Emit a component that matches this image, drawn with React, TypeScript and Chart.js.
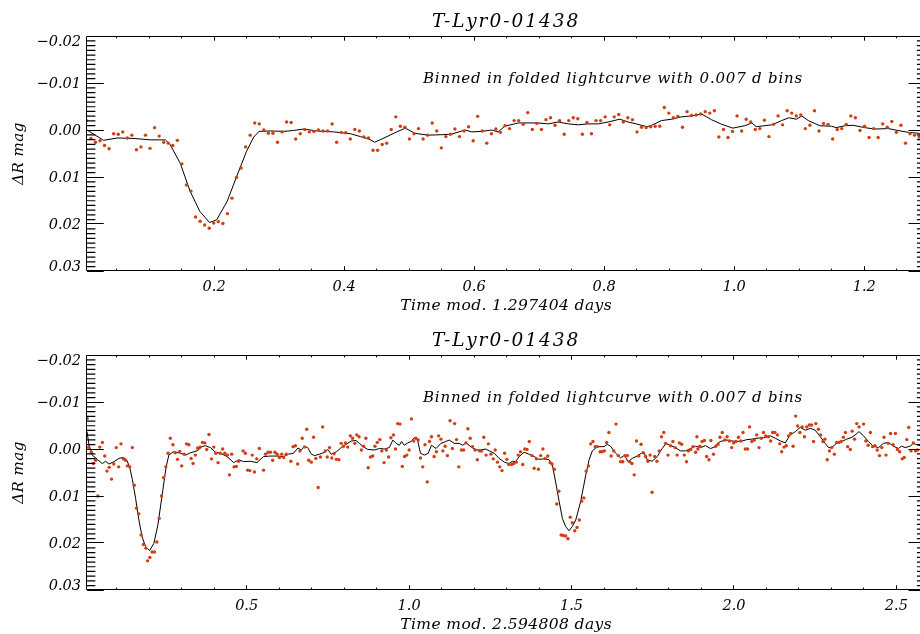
import React, { useEffect, useRef } from "react";
import { Chart, registerables } from "chart.js";

Chart.register(...registerables);

// ---------- text ----------
const TITLE = "T-Lyr0-01438";
const NOTE = "Binned in folded lightcurve with 0.007 d bins";
const Y_TITLE = "ΔR mag";
const TOP_X_TITLE = "Time mod. 1.297404 days";
const BOTTOM_X_TITLE = "Time mod. 2.594808 days";

// ---------- axes ----------
const Y_MIN = -0.02;
const Y_MAX = 0.03;
const Y_MAJOR = [-0.02, -0.01, 0, 0.01, 0.02, 0.03];
const Y_LABELS = ["\u22120.02", "\u22120.01", "0.00", "0.01", "0.02", "0.03"];
const Y_MINOR_STEP = 0.001;

const TOP_X_MIN = 0.0045;
const TOP_X_MAX = 1.294;
const TOP_X_MAJOR = [0.2, 0.4, 0.6, 0.8, 1.0, 1.2];
const TOP_X_LABELS = ["0.2", "0.4", "0.6", "0.8", "1.0", "1.2"];
const TOP_X_MINOR_STEP = 0.05;

const BOTTOM_X_MIN = 0.0085;
const BOTTOM_X_MAX = 2.589;
const BOTTOM_X_MAJOR = [0.5, 1.0, 1.5, 2.0, 2.5];
const BOTTOM_X_LABELS = ["0.5", "1.0", "1.5", "2.0", "2.5"];
const BOTTOM_X_MINOR_STEP = 0.1;

// ---------- data: top panel (period 1.297404 d) ----------
const BIN_WIDTH = 0.007;
const TOP_FIRST_BIN = 0.0035;
const TOP_BINNED = [
  -0.0020, 0.0018, 0.0026, 0.0023, 0.0033, 0.0040, 0.0008, 0.0009, 0.0004, 0.0017,
  0.0011, 0.0042, 0.0036, 0.0011, 0.0039, -0.0005, 0.0013, 0.0026, 0.0028, 0.0033,
  0.0022, 0.0072, 0.0117, 0.0130, 0.0185, 0.0194, 0.0202, 0.0209, 0.0198, 0.0195,
  0.0199, 0.0178, 0.0145, 0.0101, 0.0081, 0.0036, 0.0011, -0.0015, -0.0013, 0.0000,
  0.0007, 0.0007, 0.0026, 0.0004, -0.0017, -0.0016, 0.0019, 0.0008, -0.0001, 0.0004,
  0.0003, 0.0000, 0.0002, 0.0002, -0.0013, 0.0026, 0.0005, 0.0006, 0.0019, -0.0001,
  0.0002, 0.0015, 0.0017,
  0.0043, 0.0043, 0.0031, 0.0028, -0.0001, -0.0028, -0.0008, -0.0006, 0.0019, 0.0008,
  -0.0003, 0.0019, 0.0011, -0.0015, 0.0002, 0.0038, 0.0014, 0.0009, -0.0002, 0.0014,
  0.0002, -0.0007, 0.0023, -0.0029, 0.0002, 0.0028, 0.0008, -0.0002, 0.0005, -0.0009,
  -0.0003, -0.0020, -0.0020, -0.0012, -0.0037, -0.0001, -0.0014, -0.0001, -0.0022, -0.0026,
  -0.0010, -0.0020, 0.0009, -0.0020, -0.0026, -0.0024, 0.0009, -0.0016, 0.0008, -0.0020,
  -0.0020, -0.0028, -0.0011, -0.0028, -0.0033, -0.0017, -0.0026, -0.0022, 0.0004, -0.0006,
  -0.0005,
  -0.0007, -0.0008, -0.0008, -0.0048, -0.0036, -0.0026, -0.0029, -0.0006, -0.0039, -0.0031,
  -0.0032, -0.0034, -0.0039, -0.0036, -0.0041, 0.0015, -0.0001, 0.0016, 0.0003, -0.0030,
  0.0002, -0.0023, -0.0017, -0.0001, -0.0003, -0.0021, 0.0014, -0.0012, -0.0030, -0.0011,
  -0.0041, -0.0036, -0.0030, -0.0032, -0.0003, -0.0010, -0.0041, 0.0002, -0.0014, -0.0012,
  0.0019, -0.0001, -0.0003, -0.0012, -0.0030, -0.0026, 0.0001, -0.0008, 0.0016, -0.0003,
  0.0016, -0.0013, -0.0006, -0.0018, 0.0005, -0.0010, 0.0028, 0.0008, 0.0011, 0.0015,
];

const TOP_SMOOTH_X = [
  0.0045, 0.030, 0.051, 0.077, 0.102, 0.125, 0.132, 0.148, 0.163, 0.178,
  0.193, 0.204, 0.220, 0.235, 0.250, 0.261, 0.269, 0.286, 0.307, 0.322,
  0.338, 0.358, 0.384, 0.410, 0.425, 0.438, 0.447, 0.463, 0.478, 0.494,
  0.509, 0.529, 0.550, 0.565, 0.586, 0.596, 0.611, 0.627, 0.637, 0.647,
  0.668, 0.698, 0.714, 0.729, 0.745, 0.760, 0.775, 0.791, 0.806, 0.824,
  0.837, 0.852, 0.866, 0.873, 0.888, 0.904, 0.919, 0.935, 0.950, 0.965,
  0.981, 0.998, 1.016, 1.027, 1.034, 1.058, 1.073, 1.084, 1.096, 1.104,
  1.114, 1.132, 1.150, 1.157, 1.170, 1.183, 1.201, 1.216, 1.237, 1.252,
  1.268, 1.285, 1.294,
];
const TOP_SMOOTH_Y = [
  0.0000, 0.0022, 0.0017, 0.0018, 0.0021, 0.0021, 0.0030, 0.0071, 0.0130, 0.0173,
  0.0197, 0.0191, 0.0152, 0.0098, 0.0045, 0.0015, 0.0003, 0.0002, 0.0003, 0.0001,
  -0.0002, 0.0002, 0.0004, 0.0008, 0.0014, 0.0019, 0.0026, 0.0016, 0.0006, -0.0004,
  0.0007, 0.0011, 0.0010, 0.0009, 0.0000, 0.0004, 0.0003, 0.0000, 0.0004, -0.0008,
  -0.0015, -0.0015, -0.0013, -0.0017, -0.0013, -0.0011, -0.0013, -0.0013, -0.0017, -0.0023,
  -0.0017, -0.0012, -0.0007, -0.0010, -0.0020, -0.0023, -0.0028, -0.0030, -0.0034, -0.0022,
  -0.0012, -0.0004, -0.0009, -0.0015, -0.0007, -0.0011, -0.0020, -0.0026, -0.0023, -0.0030,
  -0.0020, -0.0009, -0.0008, -0.0005, -0.0009, -0.0010, -0.0005, -0.0002, -0.0003, 0.0001,
  0.0005, 0.0007, 0.0008,
];

// ---------- data: bottom panel (period 2.594808 d) ----------
const BOTTOM_BINNED_X = [
  0.0090, 0.0137, 0.0218, 0.028, 0.035, 0.042, 0.048, 0.056, 0.063, 0.070,
  0.077, 0.084, 0.091, 0.0985, 0.106, 0.113, 0.120, 0.127, 0.133, 0.140,
  0.148, 0.154, 0.161, 0.168, 0.175, 0.182, 0.190, 0.195, 0.202, 0.209,
  0.216, 0.2235, 0.2307, 0.238, 0.244, 0.251, 0.258, 0.265, 0.273, 0.280,
  0.287, 0.294, 0.300, 0.3075, 0.315, 0.322, 0.329, 0.335, 0.342, 0.349,
  0.357, 0.364, 0.371, 0.377, 0.384, 0.392, 0.399, 0.405, 0.412, 0.419,
  0.426, 0.433, 0.441, 0.447, 0.454, 0.461, 0.468, 0.475, 0.489, 0.496,
  0.503, 0.510, 0.517, 0.524, 0.531, 0.539, 0.552, 0.558, 0.566, 0.573,
  0.580, 0.587, 0.594, 0.601, 0.608, 0.614, 0.622, 0.636, 0.643, 0.650,
  0.657, 0.664, 0.671, 0.678, 0.685, 0.691, 0.699, 0.706, 0.713, 0.720,
  0.727, 0.734, 0.742, 0.748, 0.755, 0.762, 0.769, 0.776, 0.784, 0.791,
  0.798, 0.804, 0.811, 0.819, 0.826, 0.833, 0.839, 0.846, 0.853, 0.860,
  0.867, 0.874, 0.881, 0.888, 0.895, 0.902, 0.910, 0.916, 0.923, 0.930,
  0.937, 0.944, 0.952, 0.958, 0.965, 0.972, 0.979, 0.986, 0.993, 1.000,
  1.007, 1.014, 1.021, 1.028, 1.035, 1.042, 1.049, 1.056, 1.063, 1.069,
  1.077, 1.084, 1.091, 1.098, 1.104, 1.111, 1.118, 1.126, 1.133, 1.140,
  1.146, 1.153, 1.161, 1.168, 1.175, 1.181, 1.188, 1.195, 1.203, 1.210,
  1.217, 1.223, 1.230, 1.237, 1.244, 1.252, 1.259, 1.265, 1.272, 1.279,
  1.286, 1.294, 1.301, 1.307, 1.316, 1.322, 1.330, 1.336, 1.343, 1.350,
  1.356, 1.363, 1.370, 1.378, 1.385, 1.392, 1.398, 1.405, 1.412, 1.419,
  1.427, 1.434, 1.440, 1.447, 1.4545, 1.461, 1.468, 1.475, 1.482, 1.489,
  1.496, 1.5025, 1.510, 1.517, 1.524, 1.531, 1.538, 1.545, 1.552, 1.559,
  1.566, 1.573, 1.580, 1.588, 1.594, 1.601, 1.608, 1.615, 1.622, 1.630,
  1.637, 1.644, 1.651, 1.658, 1.665, 1.672, 1.679, 1.686, 1.693, 1.700,
  1.707, 1.714, 1.721, 1.728, 1.735, 1.742, 1.748, 1.756, 1.763, 1.770,
  1.777, 1.784, 1.790, 1.797, 1.805, 1.812, 1.819, 1.825, 1.832, 1.839,
  1.847, 1.854, 1.860, 1.867, 1.874, 1.882, 1.886, 1.889, 1.895, 1.902,
  1.909, 1.916, 1.923, 1.929, 1.937, 1.944, 1.951, 1.957, 1.964, 1.972,
  1.979, 1.986, 1.993, 1.999, 2.006, 2.014, 2.021, 2.028, 2.035, 2.042,
  2.048, 2.055, 2.063, 2.070, 2.077, 2.084, 2.091, 2.098, 2.106, 2.113,
  2.119, 2.126, 2.134, 2.141, 2.147, 2.154, 2.161, 2.168, 2.175, 2.182,
  2.190, 2.196, 2.203, 2.210, 2.217, 2.224, 2.232, 2.239, 2.245, 2.252,
  2.260, 2.267, 2.274, 2.280, 2.287, 2.294, 2.301, 2.309, 2.316, 2.323,
  2.330, 2.337, 2.343, 2.350, 2.358, 2.364, 2.371, 2.378, 2.385, 2.399,
  2.406, 2.413, 2.420, 2.427, 2.434, 2.441, 2.448, 2.455, 2.462, 2.468,
  2.475, 2.482, 2.490, 2.497, 2.503, 2.510, 2.518, 2.524, 2.532, 2.538,
  2.545, 2.552, 2.559, 2.565,
];
const BOTTOM_BINNED_Y = [
  -0.0065, -0.0003, 0.0007, 0.0031, 0.0024, 0.0100, -0.0004, -0.0014, 0.0015, 0.0047,
  0.0039, 0.0064, 0.0032, -0.0003, 0.0038, -0.0011, 0.0021, 0.0024, 0.0036, 0.0038,
  -0.0003, 0.0077, 0.0126, 0.0138, 0.0183, 0.0203, 0.0211, 0.0238, 0.0231, 0.0219,
  0.0219, 0.0198, 0.0148, 0.0100, 0.0061, 0.0038, 0.0009, -0.0023, -0.0009, 0.0008,
  0.0022, 0.0005, 0.0036, 0.0011, -0.0011, -0.0009, 0.0020, 0.0031, 0.0013, -0.0002,
  -0.0004, -0.0014, -0.0013, 0.0001, -0.0031, 0.0021, -0.0004, 0.0009, 0.0029, 0.0009,
  0.0000, 0.0009, 0.0013, 0.0055, 0.0011, 0.0038, 0.0037, 0.0026, 0.0004, 0.0009,
  0.0045, 0.0046, 0.0013, 0.0049, 0.0021, -0.0001, 0.0045, 0.0011, 0.0007, 0.0007,
  0.0024, 0.0007, 0.0011, 0.0018, 0.0011, 0.0018, 0.0011, 0.0026, -0.0005, -0.0007,
  0.0032, 0.0004, -0.0023, -0.0004, -0.0042, 0.0024, 0.0028, -0.0025, 0.0020, 0.0082,
  0.0017, -0.0047, 0.0004, 0.0017, -0.0003, 0.0019, 0.0010, 0.0022, 0.0023, -0.0012,
  -0.0006, -0.0013, -0.0004, -0.0028, -0.0023, -0.0012, -0.0030, -0.0026, 0.0002, -0.0006,
  -0.0023, 0.0040, 0.0017, 0.0015, -0.0006, -0.0014, -0.0020, 0.0004, 0.0029, 0.0002,
  0.0017, -0.0024, -0.0030, 0.0000, -0.0054, -0.0053, 0.0037, 0.0016, 0.0013, 0.0002,
  -0.0064, -0.0017, -0.0023, -0.0019, 0.0019, 0.0038, -0.0009, 0.0070, -0.0016, -0.0026,
  0.0016, 0.0006, -0.0028, -0.0021, 0.0004, -0.0006, 0.0014, -0.0060, -0.0001, -0.0054,
  -0.0020, 0.0038, 0.0002, 0.0002, -0.0013, -0.0043, -0.0023, -0.0005, 0.0002, 0.0023,
  0.0004, 0.0004, -0.0025, 0.0013, -0.0011, 0.0011, 0.0021, 0.0002, 0.0028, 0.0038,
  0.0046, 0.0009, 0.0022, 0.0033, 0.0033, 0.0031, 0.0028, 0.0013, 0.0006, 0.0033,
  0.0000, 0.0001, -0.0016, 0.0014, 0.0041, 0.0021, 0.0043, 0.0014, 0.0000, 0.0020,
  0.0015, 0.0029, 0.0032, 0.0043, 0.0117, 0.0090, 0.0183, 0.0184, 0.0185, 0.0191,
  0.0145, 0.0157, 0.0174, 0.0167, 0.0151, 0.0111, 0.0104, 0.0047, 0.0036, -0.0011,
  -0.0016, -0.0005, -0.0005, 0.0006, 0.0006, 0.0004, -0.0014, -0.0035, 0.0015, 0.0004,
  -0.0053, 0.0014, 0.0027, 0.0027, 0.0014, 0.0014, 0.0027, 0.0031, 0.0055, -0.0017,
  0.0015, -0.0010, 0.0008, 0.0016, 0.0026, 0.0013, 0.0092, 0.0016, 0.0026, 0.0004,
  -0.0026, -0.0035, -0.0012, 0.0013, -0.0007, -0.0016, -0.0003, 0.0013, -0.0013, -0.0010,
  0.0013, 0.0027, 0.0004, 0.0001, -0.0005, 0.0007, -0.0026, 0.0000, -0.0006, -0.0016,
  -0.0018, 0.0016, 0.0023, -0.0018, 0.0011, -0.0006, -0.0010, -0.0025, -0.0035, -0.0019,
  -0.0026, -0.0017, -0.0003, -0.0013, -0.0016, -0.0025, -0.0017, -0.0035, 0.0000, 0.0000,
  -0.0047, -0.0016, -0.0019, -0.0030, -0.0003, -0.0023, -0.0035, -0.0028, -0.0026, -0.0017,
  -0.0035, -0.0035, -0.0030, -0.0011, 0.0006, -0.0004, -0.0007, -0.0028, -0.0033, -0.0006,
  -0.0070, -0.0049, -0.0035, -0.0047, -0.0026, -0.0047, -0.0051, -0.0051, -0.0016, -0.0054,
  -0.0042, -0.0030, -0.0016, -0.0021, 0.0023, 0.0004, -0.0003, 0.0011, -0.0014, -0.0014,
  -0.0016, -0.0025, -0.0035, -0.0005, 0.0001, -0.0038, -0.0021, -0.0054, -0.0047, -0.0053,
  -0.0017, -0.0008, -0.0035, -0.0005, -0.0007, 0.0002, 0.0014, -0.0003, -0.0025, 0.0013,
  -0.0012, -0.0033, -0.0009, -0.0033, 0.0001, 0.0006, 0.0021, 0.0018, -0.0020, -0.0046,
  0.0004, -0.0013, 0.0004, 0.0002,
];

const BOTTOM_SMOOTH_X = [
  0.0085, 0.0146, 0.0247, 0.0401, 0.0555, 0.0659, 0.0760, 0.0914, 0.1068, 0.1200,
  0.1304, 0.1396, 0.1476, 0.1581, 0.1682, 0.1783, 0.1888, 0.2011, 0.2143, 0.2266,
  0.2398, 0.2521, 0.2604, 0.2736, 0.2963, 0.3117, 0.3270, 0.3473, 0.3627, 0.3731,
  0.3885, 0.4038, 0.4192, 0.4395, 0.4601, 0.4754, 0.4908, 0.5114, 0.5316, 0.5522,
  0.5728, 0.5931, 0.6137, 0.6290, 0.6444, 0.6577, 0.668, 0.678, 0.688, 0.699,
  0.709, 0.724, 0.740, 0.750, 0.760, 0.776, 0.791, 0.806, 0.822, 0.837,
  0.847, 0.857, 0.873, 0.893, 0.909, 0.924, 0.939, 0.950, 0.960, 0.970,
  0.977, 0.985, 0.996, 1.006, 1.016, 1.026, 1.035, 1.047, 1.059, 1.069,
  1.083, 1.098, 1.113, 1.124, 1.139, 1.154, 1.165, 1.175, 1.190, 1.206,
  1.221, 1.236, 1.247, 1.262, 1.277, 1.293, 1.308, 1.318, 1.328, 1.339,
  1.354, 1.369, 1.385, 1.400, 1.415, 1.431, 1.441, 1.451, 1.462, 1.472,
  1.482, 1.492, 1.5025, 1.513, 1.528, 1.544, 1.554, 1.564, 1.579, 1.600,
  1.610, 1.620, 1.636, 1.651, 1.663, 1.674, 1.687, 1.702, 1.715, 1.723,
  1.733, 1.748, 1.764, 1.779, 1.791, 1.805, 1.820, 1.835, 1.851, 1.866,
  1.882, 1.897, 1.912, 1.928, 1.943, 1.953, 1.963, 1.979, 1.994, 2.009,
  2.025, 2.040, 2.055, 2.071, 2.091, 2.112, 2.127, 2.143, 2.158, 2.173,
  2.189, 2.204, 2.220, 2.235, 2.250, 2.266, 2.281, 2.291, 2.301, 2.317,
  2.332, 2.347, 2.363, 2.373, 2.385, 2.399, 2.414, 2.429, 2.445, 2.460,
  2.475, 2.491, 2.506, 2.516, 2.527, 2.542, 2.552, 2.567, 2.589,
];
const BOTTOM_SMOOTH_Y = [
  -0.0037, -0.0009, 0.0013, 0.0022, 0.0031, 0.0026, 0.0032, 0.0027, 0.0020, 0.0018,
  0.0023, 0.0038, 0.0063, 0.0105, 0.0151, 0.0187, 0.0208, 0.0216, 0.0201, 0.0162,
  0.0098, 0.0038, 0.0013, 0.0006, 0.0009, 0.0013, 0.0008, 0.0004, -0.0005, -0.0007,
  -0.0003, 0.0007, 0.0009, 0.0016, 0.0029, 0.0023, 0.0027, 0.0026, 0.0029, 0.0016,
  0.0015, 0.0015, 0.0016, 0.0011, 0.0009, -0.0002, 0.0002, -0.0006, -0.0003, 0.0011,
  0.0014, 0.0011, 0.0007, 0.0001, 0.0011, 0.0006, -0.0003, -0.0010, -0.0017, -0.0018,
  -0.0012, -0.0006, 0.0001, 0.0002, -0.0001, 0.0000, -0.0003, -0.0019, -0.0012, -0.0008,
  -0.0016, -0.0008, -0.0013, -0.0016, -0.0024, -0.0019, 0.0009, 0.0013, 0.0009, -0.0008,
  -0.0001, -0.0012, -0.0016, -0.0019, -0.0012, -0.0012, -0.0008, -0.0013, -0.0005, 0.0002,
  0.0002, 0.0000, 0.0004, 0.0009, 0.0020, 0.0028, 0.0031, 0.0026, 0.0027, 0.0016,
  0.0007, 0.0011, 0.0016, 0.0022, 0.0021, 0.0023, 0.0034, 0.0070, 0.0112, 0.0148,
  0.0165, 0.0174, 0.0165, 0.0151, 0.0112, 0.0055, 0.0023, 0.0004, -0.0005, -0.0005,
  -0.0010, -0.0006, 0.0009, 0.0019, 0.0013, 0.0027, 0.0020, 0.0015, 0.0009, 0.0007,
  0.0023, 0.0026, 0.0016, -0.0001, -0.0012, -0.0007, -0.0003, 0.0004, 0.0004, -0.0001,
  -0.0006, -0.0003, -0.0007, -0.0001, -0.0005, -0.0014, -0.0017, -0.0019, -0.0017, -0.0016,
  -0.0017, -0.0020, -0.0021, -0.0023, -0.0024, -0.0028, -0.0023, -0.0017, -0.0013, -0.0030,
  -0.0037, -0.0046, -0.0040, -0.0044, -0.0040, -0.0026, -0.0012, -0.0003, -0.0003, -0.0013,
  -0.0016, -0.0021, -0.0025, -0.0030, -0.0037, -0.0028, -0.0016, -0.0006, -0.0003, -0.0012,
  -0.0014, -0.0006, -0.0001, -0.0006, -0.0003, -0.0006, -0.0012, -0.0008, -0.0006,
];

// ---------- style ----------
const DOT_COLOR = "rgb(210, 62, 18)";
const FONT = '"DejaVu Serif", serif';
const CANVAS_W = 927;
const CANVAS_H = 317;

type PanelCfg = {
  xMin: number;
  xMax: number;
  xMajor: number[];
  xLabels: string[];
  xMinorStep: number;
  xTitle: string;
  binX: number[];
  binY: number[];
  lineX: number[];
  lineY: number[];
};

const idlPlugin = {
  id: "idlAxes",
  afterDraw(chart: any, _args: any, opts: any) {
    const cfg: PanelCfg = opts.cfg;
    const { ctx, chartArea: a } = chart;
    const xs = chart.scales.x;
    const ys = chart.scales.y;
    ctx.save();
    ctx.strokeStyle = "#000";
    ctx.fillStyle = "#000";
    ctx.lineWidth = 1;

    // frame
    ctx.beginPath();
    ctx.moveTo(a.left - 0.5, a.top + 0.5);
    ctx.lineTo(a.right - 0.5, a.top + 0.5);
    ctx.lineTo(a.right - 0.5, a.bottom - 0.5);
    ctx.lineTo(a.left - 0.5, a.bottom - 0.5);
    ctx.closePath();
    ctx.stroke();

    const w = a.right - a.left;
    const h = a.bottom - a.top;
    const yMajLen = 0.02 * w;
    const xMajLen = 0.02 * h;

    // y ticks: major crisp, minor slightly soft (as in the source raster)
    const n0 = Math.round(Y_MIN / Y_MINOR_STEP);
    const n1 = Math.round(Y_MAX / Y_MINOR_STEP);
    const majorPath = new Path2D();
    const minorPath = new Path2D();
    for (let k = n0; k <= n1; k++) {
      const major = k % 10 === 0;
      const raw = ys.getPixelForValue(k * Y_MINOR_STEP);
      if (major) {
        const py = Math.floor(raw) + 0.5;
        majorPath.moveTo(a.left, py);
        majorPath.lineTo(a.left + yMajLen, py);
        majorPath.moveTo(a.right, py);
        majorPath.lineTo(a.right - yMajLen, py);
      } else {
        const py = raw + 0.25;
        minorPath.moveTo(a.left, py);
        minorPath.lineTo(a.left + yMajLen / 2, py);
        minorPath.moveTo(a.right, py);
        minorPath.lineTo(a.right - yMajLen / 2, py);
      }
    }
    // x ticks
    const per = Math.round(cfg.xMajor[0] / cfg.xMinorStep);
    const m0 = Math.ceil(cfg.xMin / cfg.xMinorStep);
    const m1 = Math.floor(cfg.xMax / cfg.xMinorStep);
    for (let k = m0; k <= m1; k++) {
      const major = k % per === 0;
      const len = major ? xMajLen : xMajLen / 2;
      const px = Math.floor(xs.getPixelForValue(k * cfg.xMinorStep)) + 0.5;
      majorPath.moveTo(px, a.bottom);
      majorPath.lineTo(px, a.bottom - len);
      majorPath.moveTo(px, a.top);
      majorPath.lineTo(px, a.top + len);
    }
    ctx.stroke(majorPath);
    ctx.lineWidth = 1.2;
    ctx.stroke(minorPath);
    ctx.lineWidth = 1;

    // y tick labels
    ctx.font = `italic 14.5px ${FONT}`;
    ctx.textAlign = "right";
    ctx.textBaseline = "middle";
    Y_MAJOR.forEach((v, i) => {
      let py = ys.getPixelForValue(v) + 1;
      if (i === 0) py += 5;
      if (i === Y_MAJOR.length - 1) py -= 5;
      ctx.fillText(Y_LABELS[i], a.left - 6, py);
    });

    // x tick labels
    ctx.textAlign = "center";
    cfg.xMajor.forEach((v, i) => {
      ctx.fillText(cfg.xLabels[i], xs.getPixelForValue(v), a.bottom + 16.5);
    });

    const cx = (a.left + a.right) / 2;

    // x title
    ctx.font = `italic 15.5px ${FONT}`;
    (ctx as any).letterSpacing = "0.4px";
    ctx.fillText(cfg.xTitle, cx, a.bottom + 35);

    // title
    ctx.font = `italic 18.5px ${FONT}`;
    (ctx as any).letterSpacing = "2px";
    ctx.fillText(TITLE, cx, a.top - 13.5);

    // note
    ctx.textAlign = "left";
    ctx.font = `italic 15px ${FONT}`;
    (ctx as any).letterSpacing = "0.8px";
    ctx.fillText(NOTE, a.left + 336, a.top + 43);

    // y title
    (ctx as any).letterSpacing = "0.5px";
    ctx.translate(19, (a.top + a.bottom) / 2);
    ctx.rotate(-Math.PI / 2);
    ctx.textAlign = "center";
    ctx.font = `italic 15px ${FONT}`;
    ctx.fillText(Y_TITLE, 0, 0);

    ctx.restore();
  },
};

function Panel({ cfg, top }: { cfg: PanelCfg; top: number }) {
  const ref = useRef<HTMLCanvasElement | null>(null);
  useEffect(() => {
    if (!ref.current) return;
    const chart = new Chart(ref.current, {
      type: "scatter",
      data: {
        datasets: [
          {
            type: "scatter",
            data: cfg.binX.map((x, i) => ({ x, y: cfg.binY[i] })),
            backgroundColor: DOT_COLOR,
            borderWidth: 0,
            pointRadius: 1.7,
            pointHoverRadius: 1.7,
          },
          {
            type: "line",
            data: cfg.lineX.map((x, i) => ({ x, y: cfg.lineY[i] })),
            borderColor: "#000",
            borderWidth: 1,
            pointRadius: 0,
            tension: 0,
            fill: false,
          } as any,
        ],
      },
      options: {
        animation: false,
        responsive: false,
        maintainAspectRatio: false,
        devicePixelRatio: 1,
        events: [],
        layout: { padding: { top: 36, left: 0, right: 0, bottom: 0 } },
        plugins: {
          legend: { display: false },
          title: { display: false },
          tooltip: { enabled: false },
          idlAxes: { cfg },
        } as any,
        scales: {
          x: {
            type: "linear",
            min: cfg.xMin,
            max: cfg.xMax,
            grid: { display: false },
            border: { display: false },
            ticks: { display: false },
            afterFit: (s: any) => {
              s.height = CANVAS_H - 36 - 235;
            },
          },
          y: {
            type: "linear",
            min: Y_MIN,
            max: Y_MAX,
            reverse: true,
            grid: { display: false },
            border: { display: false },
            ticks: { display: false },
            afterFit: (s: any) => {
              s.width = 87;
            },
          },
        },
      },
      plugins: [idlPlugin],
    });
    return () => chart.destroy();
  }, [cfg]);
  return (
    <canvas
      ref={ref}
      width={CANVAS_W}
      height={CANVAS_H}
      style={{ position: "absolute", left: 0, top, width: CANVAS_W, height: CANVAS_H }}
    />
  );
}

const TOP_CFG: PanelCfg = {
  xMin: TOP_X_MIN,
  xMax: TOP_X_MAX,
  xMajor: TOP_X_MAJOR,
  xLabels: TOP_X_LABELS,
  xMinorStep: TOP_X_MINOR_STEP,
  xTitle: TOP_X_TITLE,
  binX: TOP_BINNED.map((_, i) => TOP_FIRST_BIN + i * BIN_WIDTH),
  binY: TOP_BINNED,
  lineX: TOP_SMOOTH_X,
  lineY: TOP_SMOOTH_Y,
};

const BOTTOM_CFG: PanelCfg = {
  xMin: BOTTOM_X_MIN,
  xMax: BOTTOM_X_MAX,
  xMajor: BOTTOM_X_MAJOR,
  xLabels: BOTTOM_X_LABELS,
  xMinorStep: BOTTOM_X_MINOR_STEP,
  xTitle: BOTTOM_X_TITLE,
  binX: BOTTOM_BINNED_X,
  binY: BOTTOM_BINNED_Y,
  lineX: BOTTOM_SMOOTH_X,
  lineY: BOTTOM_SMOOTH_Y,
};

export default function App() {
  return (
    <div
      style={{
        position: "fixed",
        left: 0,
        top: 0,
        width: 920,
        height: 634,
        overflow: "hidden",
        background: "#fff",
      }}
    >
      <Panel cfg={TOP_CFG} top={0} />
      <Panel cfg={BOTTOM_CFG} top={319} />
    </div>
  );
}
